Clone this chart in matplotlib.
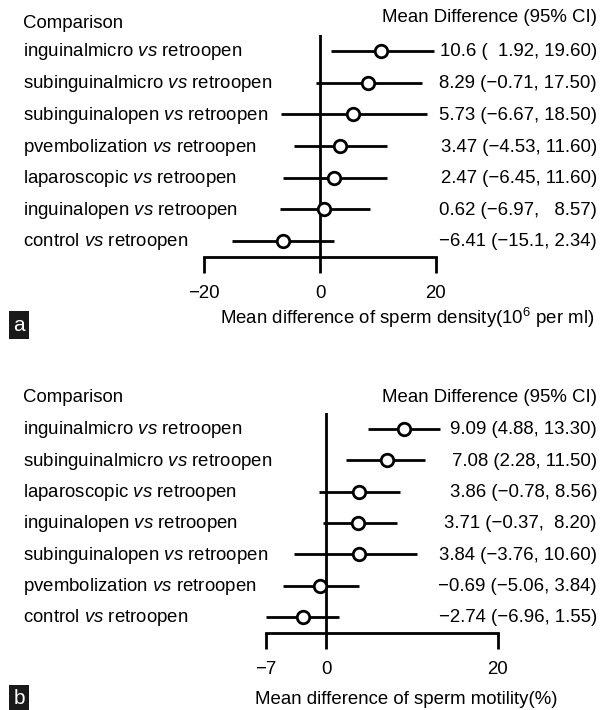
import matplotlib
matplotlib.use('Agg')
import matplotlib.pyplot as plt

plt.rcParams['font.family'] = 'Liberation Sans'
plt.rcParams['mathtext.fontset'] = 'custom'
plt.rcParams['mathtext.rm'] = 'Liberation Sans'
plt.rcParams['mathtext.it'] = 'Liberation Sans:italic'

# panel a: sperm density
groups_a = ['inguinalmicro', 'subinguinalmicro', 'subinguinalopen', 'pvembolization',
            'laparoscopic', 'inguinalopen', 'control']
mean_a = [10.6, 8.29, 5.73, 3.47, 2.47, 0.62, -6.41]
lo_a = [1.92, -0.71, -6.67, -4.53, -6.45, -6.97, -15.1]
hi_a = [19.60, 17.50, 18.50, 11.60, 11.60, 8.57, 2.34]
ci_a = ['10.6 (  1.92, 19.60)', '8.29 (\u22120.71, 17.50)', '5.73 (\u22126.67, 18.50)',
        '3.47 (\u22124.53, 11.60)', '2.47 (\u22126.45, 11.60)', '0.62 (\u22126.97,   8.57)',
        '\u22126.41 (\u221215.1, 2.34)']
ticks_a = [-20, 0, 20]

# panel b: sperm motility
groups_b = ['inguinalmicro', 'subinguinalmicro', 'laparoscopic', 'inguinalopen',
            'subinguinalopen', 'pvembolization', 'control']
mean_b = [9.09, 7.08, 3.86, 3.71, 3.84, -0.69, -2.74]
lo_b = [4.88, 2.28, -0.78, -0.37, -3.76, -5.06, -6.96]
hi_b = [13.30, 11.50, 8.56, 8.20, 10.60, 3.84, 1.55]
ci_b = ['9.09 (4.88, 13.30)', '7.08 (2.28, 11.50)', '3.86 (\u22120.78, 8.56)',
        '3.71 (\u22120.37,  8.20)', '3.84 (\u22123.76, 10.60)', '\u22120.69 (\u22125.06, 3.84)',
        '\u22122.74 (\u22126.96, 1.55)']
ticks_b = [-7, 0, 20]

W, H = 608, 710
FS = 13.4
LW = 2.0

fig = plt.figure(figsize=(W / 100, H / 100), dpi=100)


def fx(px):
    return px / W


def fy(py):
    return 1 - py / H


def panel(groups, mean, lo, hi, ci, ticks, x0, x1, row0, row6,
          head_y1, head_y2, xlab, xlab_x, xlab_y, letter, letter_y):
    step = (row6 - row0) / 6
    top = row0 - step / 2
    bot = row6 + step / 2
    ax = fig.add_axes([fx(x0), fy(bot), fx(x1) - fx(x0), (bot - top) / H])
    ax.set_xlim(ticks[0], ticks[-1])
    ax.set_ylim(6.5, -0.5)
    ax.patch.set_alpha(0)
    for s in ['top', 'left', 'right']:
        ax.spines[s].set_visible(False)
    ax.spines['bottom'].set_linewidth(LW)
    ax.spines['bottom'].set_capstyle('projecting')
    ax.set_yticks([])
    ax.set_xticks(ticks)
    ax.tick_params(axis='x', direction='out', length=11.5, width=LW, pad=9,
                   labelsize=FS)
    ax.axvline(0, color='black', lw=LW)

    rows = list(range(len(groups)))
    for i in rows:
        ax.plot([lo[i], hi[i]], [i, i], color='black', lw=LW, clip_on=False,
                solid_capstyle='butt')
    ax.plot(mean, rows, 'o', ms=9, mfc='white', mec='black', mew=2.0,
            clip_on=False, zorder=5)

    # text columns
    for i in rows:
        y = row0 + i * step
        fig.text(fx(23), fy(y + 1), groups[i] + r' $\mathit{vs}$ retroopen',
                 fontsize=FS, ha='left', va='center')
        fig.text(fx(597), fy(y + 1), ci[i], fontsize=FS, ha='right', va='center')
    fig.text(fx(23), fy(head_y1), 'Comparison', fontsize=FS, ha='left', va='center')
    fig.text(fx(597), fy(head_y2), 'Mean Difference (95% CI)', fontsize=FS,
             ha='right', va='center')
    fig.text(fx(xlab_x), fy(xlab_y), xlab, fontsize=FS, ha='left', va='center')
    fig.text(fx(19), fy(letter_y), letter, fontsize=15, color='white',
             ha='center', va='center',
             bbox=dict(boxstyle='square,pad=0.22', fc='#1a1a1a', ec='none'))
    return ax


panel(groups_a, mean_a, lo_a, hi_a, ci_a, ticks_a, 204, 436, 51, 241,
      23, 18, r'Mean difference of sperm density($10^{6}$ per ml)', 220, 318,
      'a', 325)
panel(groups_b, mean_b, lo_b, hi_b, ci_b, ticks_b, 266, 498, 429, 617,
      397, 398, 'Mean difference of sperm motility(%)', 255, 700,
      'b', 699)

fig.savefig('out.png', dpi=100)
